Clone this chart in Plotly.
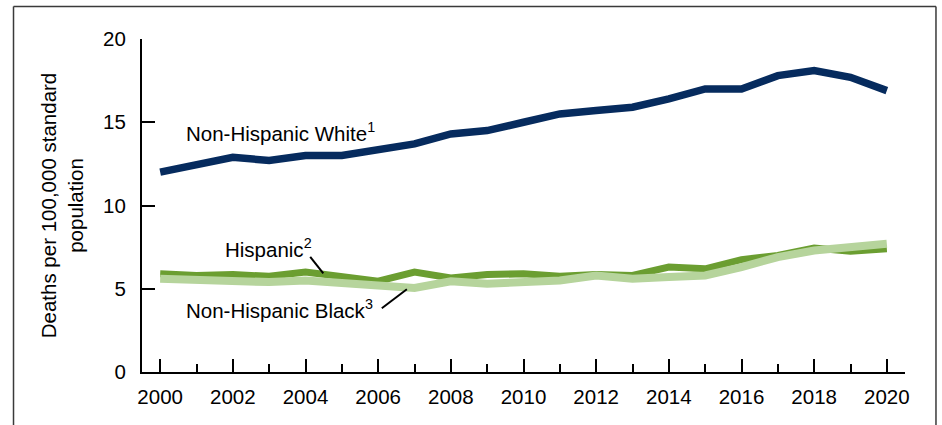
import plotly.graph_objects as go

years = list(range(2000, 2021))
white = [12.0, 12.5, 12.9, 12.7, 13.0, 13.0, 13.3, 13.7, 14.3, 14.5, 15.0,
         15.5, 15.7, 15.9, 16.4, 17.0, 17.0, 17.8, 18.1, 17.7, 16.9]
hispanic = [5.9, 5.8, 5.85, 5.75, 6.0, 5.7, 5.45, 6.0, 5.65, 5.85, 5.9,
            5.75, 5.85, 5.8, 6.3, 6.2, 6.75, 7.0, 7.45, 7.25, 7.4]
black = [5.6, 5.5, 5.5, 5.4, 5.5, 5.4, 5.2, 5.05, 5.45, 5.3, 5.4,
         5.5, 5.8, 5.6, 5.7, 5.8, 6.3, 6.9, 7.3, 7.5, 7.7]
y_ticks = [0, 5, 10, 15, 20]
x_ticks = list(range(2000, 2021, 2))

FONT = "Arial, Liberation Sans, sans-serif"
FS = 20.5

fig = go.Figure()
fig.add_trace(go.Scatter(x=years, y=white, mode="lines",
                         line=dict(color="#062b5e", width=7.5), hoverinfo="skip"))
fig.add_trace(go.Scatter(x=years, y=hispanic, mode="lines",
                         line=dict(color="#6b9e31", width=7), hoverinfo="skip"))
fig.add_trace(go.Scatter(x=years, y=black, mode="lines",
                         line=dict(color="#b6d49c", width=8), hoverinfo="skip"))

fig.update_layout(
    width=942, height=425,
    margin=dict(l=142, r=37, t=39, b=53),
    paper_bgcolor="white", plot_bgcolor="white",
    showlegend=False,
    font=dict(family=FONT, size=FS, color="black"),
    xaxis=dict(range=[1999.5, 2020.5], tickvals=x_ticks, ticktext=[str(v) for v in x_ticks],
               showgrid=False, zeroline=False, showline=True, linecolor="black", linewidth=2,
               ticks="inside", ticklen=13, tickwidth=2, tickcolor="black",
               minor=dict(dtick=1, tick0=2000, ticks="inside", ticklen=8, tickwidth=2,
                          tickcolor="black", showgrid=False),
               tickfont=dict(size=FS, family=FONT), ticklabelstandoff=5),
    yaxis=dict(range=[0, 20], tickvals=y_ticks, showgrid=False, zeroline=False,
               showline=True, linecolor="black", linewidth=2,
               ticks="inside", ticklen=13, tickwidth=2, tickcolor="black",
               tickfont=dict(size=FS, family=FONT), ticklabelstandoff=10,
               title=dict(text="Deaths per 100,000 standard<br>population",
                          font=dict(size=FS, family=FONT), standoff=14)),
)

ann = dict(xref="x", yref="y", showarrow=False, xanchor="left", yanchor="middle",
           font=dict(size=FS, family=FONT, color="black"))
fig.add_annotation(x=2000.66, y=14.43, text="Non-Hispanic White<sup>1</sup>", **ann)
fig.add_annotation(x=2001.73, y=7.43, text="Hispanic<sup>2</sup>", **ann)
fig.add_annotation(x=2000.66, y=3.78, text="Non-Hispanic Black<sup>3</sup>", **ann)

fig.add_shape(type="line", xref="x", yref="y", x0=2004.13, y0=6.92, x1=2004.49, y1=5.93,
              line=dict(color="black", width=2))
fig.add_shape(type="line", xref="x", yref="y", x0=2006.10, y0=3.83, x1=2006.79, y1=4.97,
              line=dict(color="black", width=2))

# outer frame (open at the bottom, runs past the page edge)
FL, FR, FT, FB = -0.1684, 1.0406, 1.0976, -0.2
frame = dict(type="line", xref="paper", yref="paper", line=dict(color="#3a3a3a", width=1.5))
fig.add_shape(x0=FL, x1=FL, y0=FB, y1=FT, **frame)
fig.add_shape(x0=FL, x1=FR, y0=FT, y1=FT, **frame)
fig.add_shape(x0=FR, x1=FR, y0=FB, y1=FT, **frame)

fig.write_html("out.html", config={"displayModeBar": False},
               post_script="document.body.style.margin='0px';document.body.style.padding='0px';")
